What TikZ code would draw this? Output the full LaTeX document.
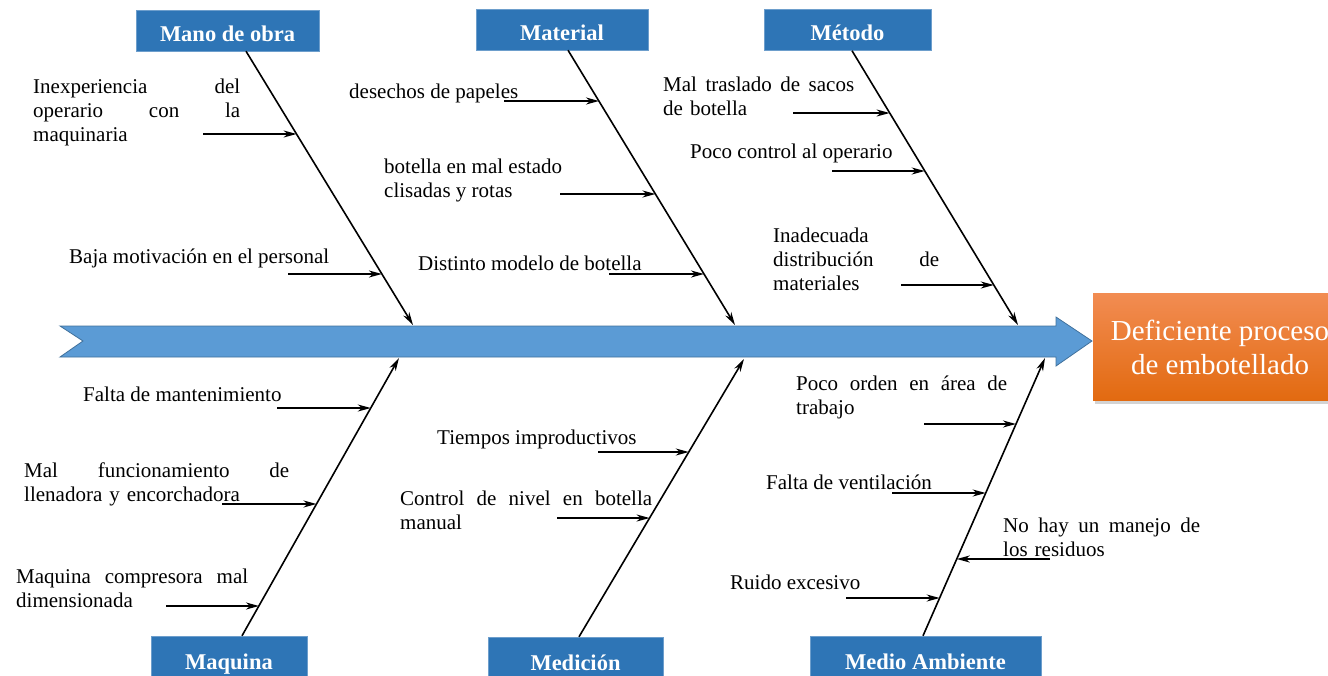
\documentclass[tikz,border=0pt]{standalone}
\usepackage{fontspec}
\setmainfont{Liberation Serif}
\usetikzlibrary{arrows.meta, shadows}
\definecolor{catBlue}{RGB}{46,117,182}
\definecolor{spineBlue}{RGB}{91,155,213}
\definecolor{spineEdge}{RGB}{65,113,156}
\definecolor{effTop}{RGB}{242,140,82}
\definecolor{effBot}{RGB}{226,106,16}

\begin{document}
\begin{tikzpicture}[
  x=1pt, y=-1pt,
  cat/.style={fill=catBlue, draw=catBlue!70!white, text=white, inner sep=0pt,
    font=\fontsize{22.5}{26}\selectfont\bfseries, minimum height=41pt,
    text height=21pt, text depth=0pt},
  bone/.style={line width=1.6pt, -{Stealth[length=13pt, width=7pt, inset=4pt]}},
  sub/.style={bone},
  lbl/.style={anchor=west, inner sep=0pt, align=left,
    font=\fontsize{21}{24}\selectfont},
]
  \useasboundingbox (0,0) rectangle (1328,675);

  % spine
  \filldraw[fill=spineBlue, draw=spineEdge, line width=0.8pt]
    (60,326) -- (1056,326) -- (1056,317) -- (1092,341) -- (1056,366)
    -- (1056,357) -- (60,357) -- (83,341) -- cycle;

  % effect
  \node[minimum width=254pt, minimum height=107pt, inner sep=0pt,
    top color=effTop, bottom color=effBot, text=white, align=center,
    font=\fontsize{29}{34}\selectfont,
    drop shadow={shadow xshift=2pt, shadow yshift=-3pt, opacity=0.35}]
    (effect) at (1220,347) {Deficiente proceso\\de embotellado};

  % categories
  \node[cat, minimum width=183pt] (manoobra) at (227.5,30.5) {Mano de obra};
  \node[cat, minimum width=172pt] (material) at (562,29.5) {Material};
  \node[cat, minimum width=167pt] (metodo) at (847.5,30) {Método};
  \node[cat, minimum width=156pt, minimum height=46pt] (maquina) at (229,659) {Maquina};
  \node[cat, minimum width=175pt, minimum height=46pt] (medicion) at (575.5,660) {Medición};
  \node[cat, minimum width=231pt, minimum height=46pt] (medioamb) at (925.5,659) {Medio Ambiente};

  % where the bones meet the spine
  \coordinate (manoobra-in) at (413,325);
  \coordinate (material-in) at (735,325);
  \coordinate (metodo-in) at (1018,325);
  \coordinate (maquina-in) at (399,358);
  \coordinate (medicion-in) at (744,359);
  \coordinate (medioamb-in) at (1045,358);

  \draw[bone] ([xshift=18.5pt]manoobra.south) -- (manoobra-in);
  \draw[bone] ([xshift=6pt]material.south) -- (material-in);
  \draw[bone] ([xshift=4.5pt]metodo.south) -- (metodo-in);
  \draw[bone] ([xshift=13pt]maquina.north) -- (maquina-in);
  \draw[bone] ([xshift=3.5pt]medicion.north) -- (medicion-in);
  \draw[bone] ([xshift=-2.5pt]medioamb.north) -- (medioamb-in);

  % causes: name / start x / x on the bone / y
  \foreach \n/\a/\b/\y in {
      mo1/203/296.6/134, mo2/288/381.9/274,
      mt1/504/599/101, mt2/560/655.5/194, mt3/609/704/274,
      me1/793/889.6/113, me2/832/924.7/171, me3/901/993.8/285,
      mq1/277/370.8/408, mq2/222/316.5/504, mq3/166/259/606,
      md1/598/688.8/452, md2/557/649.6/518,
      ma1/924/1016/424, ma2/892/985.7/493, ma3/1050/956.8/559, ma4/846/939.7/598}{
    \coordinate (\n-s) at (\a,\y);
    \coordinate (\n-e) at (\b,\y);
    \draw[sub] (\n-s) -- (\n-e);
  }

  % mano de obra
  \node[lbl, text width=207pt] (inexp) at (33,112)
    {Inexperiencia\hfill del\\operario\hfill con\hfill la\\maquinaria};
  \node[lbl] (motiv) at (69,258) {Baja motivación en el personal};

  % material
  \node[lbl] (desechos) at (349,93) {desechos de papeles};
  \node[lbl] (malestado) at (384,180) {botella en mal estado\\clisadas y rotas};
  \node[lbl] (modelo) at (418,263) {Distinto modelo de botella};

  % metodo
  \node[lbl, text width=191pt] (traslado) at (663,96)
    {Mal\hfill traslado\hfill de\hfill sacos\\de botella};
  \node[lbl] (control) at (690,153) {Poco control al operario};
  \node[lbl, text width=166pt] (distrib) at (773,259)
    {Inadecuada\\distribución\hfill de\\materiales};

  % maquina
  \node[lbl] (mant) at (83,394) {Falta de mantenimiento};
  \node[lbl, text width=265pt] (llenadora) at (24,484)
    {Mal\hfill funcionamiento\hfill de\\llenadora y encorchadora};
  \node[lbl, text width=232pt] (compresora) at (16,588)
    {Maquina\hfill compresora\hfill mal\\dimensionada};

  % medicion
  \node[lbl] (tiempos) at (437,439) {Tiempos improductivos};
  \node[lbl, text width=252pt] (nivel) at (400,510)
    {Control\hfill de\hfill nivel\hfill en\hfill botella\\manual};

  % medio ambiente
  \node[lbl, text width=211pt] (orden) at (796,397)
    {Poco\hfill orden\hfill en\hfill área\hfill de\\trabajo};
  \node[lbl] (ventila) at (766,482) {Falta de ventilación};
  \node[lbl, text width=197pt] (residuos) at (1003,537)
    {No\hfill hay\hfill un\hfill manejo\hfill de\\los residuos};
  \node[lbl] (ruido) at (730,582) {Ruido excesivo};
\end{tikzpicture}
\end{document}
